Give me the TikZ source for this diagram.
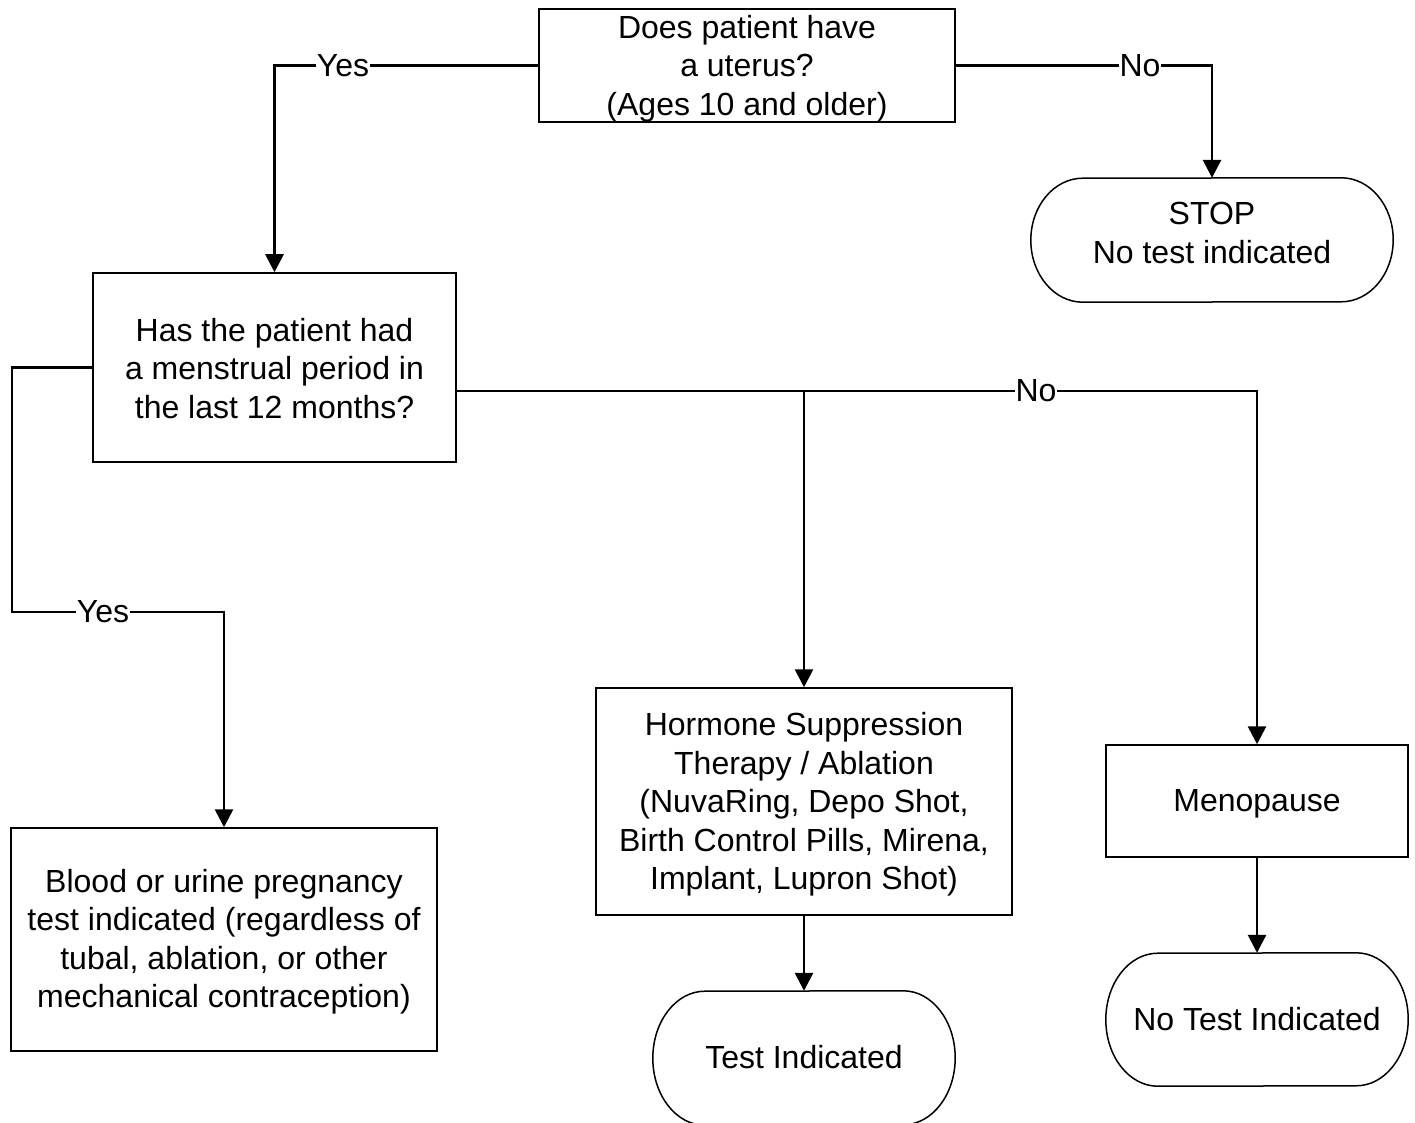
\documentclass[tikz,border=0pt]{standalone}
\usepackage{fontspec}
\setmainfont{Liberation Sans}
\usetikzlibrary{arrows.meta}
\newcommand\termshape[3]{\draw[line width=1.5pt] ([xshift=-#2]#1.north east) arc[start angle=90,end angle=-90,x radius=#2,y radius=#3] -- ([xshift=#2]#1.south west) arc[start angle=270,end angle=90,x radius=#2,y radius=#3] -- cycle;}
\begin{document}
\begin{tikzpicture}[x=1pt,y=-1pt,
  every node/.style={font=\fontsize{32}{38.5}\selectfont, align=center, inner sep=0pt},
  boxnode/.style={draw, line width=1.5pt, rectangle},
  termnode/.style={rectangle},
  conn/.style={line width=2.8pt, -{Triangle[width=18pt,length=18pt]}},
  lbl/.style={fill=white, inner xsep=1pt, inner ysep=2pt}]
\useasboundingbox (0,0) rectangle (1415,1123);
% shapes
\node[boxnode, minimum width=416pt, minimum height=113pt] (b1) at (747,65.5) {};
\node[boxnode, minimum width=363pt, minimum height=189pt] (b2) at (274.5,367.5) {};
\node[termnode, minimum width=362pt, minimum height=124pt] (stop) at (1212,240) {};
\node[boxnode, minimum width=416pt, minimum height=227pt] (horm) at (804,801.5) {};
\node[termnode, minimum width=302pt, minimum height=134pt] (test) at (804,1058) {};
\node[boxnode, minimum width=302pt, minimum height=112pt] (meno) at (1257,801) {};
\node[termnode, minimum width=302pt, minimum height=133pt] (notest) at (1257,1019.5) {};
\node[boxnode, minimum width=426pt, minimum height=223pt] (blood) at (224,939.5) {};
\termshape{stop}{52pt}{62pt}
\termshape{test}{52pt}{67pt}
\termshape{notest}{52pt}{66.5pt}
% texts
\node (b1t) at ([yshift=-3pt]b1.center) {Does patient have\\a uterus?\\(Ages 10 and older)};
\node (b2t) at ([yshift=-1pt]b2.center) {Has the patient had\\a menstrual period in\\the last 12 months?};
\node (stopt) at ([yshift=7pt]stop.center) {STOP\\No test indicated};
\node (hormt) at ([yshift=-3pt]horm.center) {Hormone Suppression\\Therapy / Ablation\\(NuvaRing, Depo Shot,\\Birth Control Pills, Mirena,\\Implant, Lupron Shot)};
\node (testt) at ([yshift=1pt]test.center) {Test Indicated};
\node (menot) at ([yshift=-3pt]meno.center) {Menopause};
\node (notestt) at (notest.center) {No Test Indicated};
\node (bloodt) at ([yshift=-2pt]blood.center) {Blood or urine pregnancy\\test indicated (regardless of\\tubal, ablation, or other\\mechanical contraception)};
\coordinate (lc) at (12,612);
\coordinate (rj) at (804,391);
% connectors
\draw[conn] (b1.west) -| (b2.north);
\node[lbl] (y1) at (343,65.5) {Yes};
\draw[conn] (b1.east) -| (stop.north);
\node[lbl] (n1) at (1140,65.5) {No};
\draw[conn] (b2.west) -| (lc) -| (blood.north);
\node[lbl] (y2) at (103,612) {Yes};
\draw[conn] (b2.east |- rj) -| (meno.north);
\draw[conn] (rj) -- (horm.north);
\node[lbl] (n2) at (1036,391) {No};
\draw[conn] (horm.south) -- (test.north);
\draw[conn] (meno.south) -- (notest.north);
\end{tikzpicture}
\end{document}
